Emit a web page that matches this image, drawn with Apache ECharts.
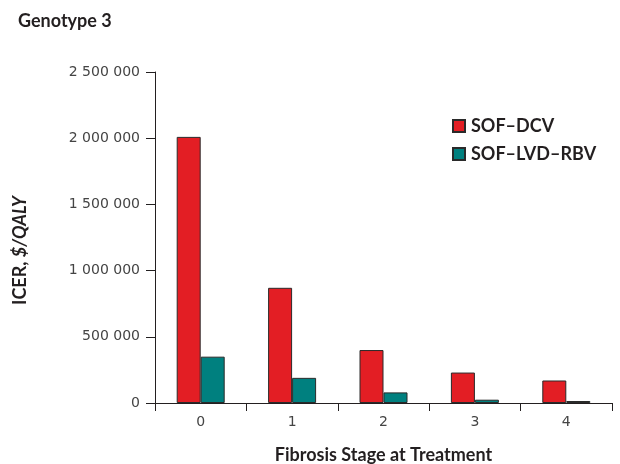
<!DOCTYPE html>
<html>
<head>
<meta charset="utf-8">
<script src="https://cdn.jsdelivr.net/npm/echarts@6/dist/echarts.min.js"></script>
<style>
  html, body { margin: 0; padding: 0; background: #fff; }
  #chart { width: 620px; height: 464px; }
</style>
</head>
<body>
<div id="chart"></div>
<script>
// fibrosis stage categories
var stages = ['0', '1', '2', '3', '4'];
// ICER values ($/QALY)
var sofDcv = [2010000, 870000, 400000, 230000, 170000];
var sofLvdRbv = [350000, 190000, 80000, 25000, 15000];
var seriesNames = ['SOF\u2013DCV', 'SOF\u2013LVD\u2013RBV'];

var boldFont = 'Lato, "Open Sans", sans-serif';
var tickFont = '"DejaVu Sans", sans-serif';
var ink = '#231f20';

function spaced(v) {
    // 2500000 -> "2 500 000"
    return String(v).replace(/\B(?=(\d{3})+(?!\d))/g, ' ');
}

var myChart = echarts.init(document.getElementById('chart'));
var option = {
    animation: false,
    title: {
        text: 'Genotype 3',
        left: 13,
        top: 7,
        textStyle: { fontSize: 18, fontWeight: 'bold', color: ink, fontFamily: boldFont }
    },
    legend: {
        orient: 'vertical',
        left: 447,
        top: 112,
        itemWidth: 12,
        itemHeight: 12,
        itemGap: 10,
        icon: 'rect',
        textStyle: { fontSize: 18, fontWeight: 'bold', color: ink, fontFamily: boldFont, padding: [0, 0, 0, 1] },
        data: seriesNames
    },
    grid: { left: 155, right: 8, top: 72, bottom: 61, containLabel: false, outerBoundsMode: 'none' },
    xAxis: {
        type: 'category',
        data: stages,
        name: 'Fibrosis Stage at Treatment',
        nameLocation: 'middle',
        nameGap: 43,
        nameTextStyle: { fontSize: 18, fontWeight: 'bold', color: ink, fontFamily: boldFont },
        axisLine: { lineStyle: { color: ink, width: 1 } },
        axisTick: { show: true, length: 8, lineStyle: { color: ink } },
        axisLabel: { fontSize: 14, color: '#444', margin: 12, fontFamily: tickFont }
    },
    yAxis: {
        type: 'value',
        min: 0,
        max: 2500000,
        interval: 500000,
        name: '{b|ICER, }{i|$/QALY}',
        nameLocation: 'middle',
        nameGap: 126,
        nameRotate: 90,
        nameTextStyle: {
            padding: [0, 26, 0, 0],
            rich: {
                b: { fontSize: 18, fontWeight: 'bold', color: ink, fontFamily: boldFont },
                i: { fontSize: 18, fontWeight: 'bold', fontStyle: 'italic', color: ink, fontFamily: boldFont }
            }
        },
        axisLine: { show: true, lineStyle: { color: ink, width: 1 } },
        axisTick: { show: true, length: 9, lineStyle: { color: ink } },
        splitLine: { show: false },
        axisLabel: {
            fontSize: 14,
            color: '#444',
            margin: 15,
            fontFamily: tickFont,
            formatter: function (v) { return spaced(v); }
        }
    },
    series: [
        {
            name: seriesNames[0],
            type: 'bar',
            data: sofDcv,
            barWidth: 24,
            barGap: '0%',
            itemStyle: { color: '#e31e24', borderColor: '#2a2a2a', borderWidth: 1 }
        },
        {
            name: seriesNames[1],
            type: 'bar',
            data: sofLvdRbv,
            barWidth: 24,
            barGap: '0%',
            itemStyle: { color: '#00807f', borderColor: '#2a2a2a', borderWidth: 1 }
        }
    ]
};
window.onresize = myChart.resize;
myChart.setOption(option);
</script>
</body>
</html>
